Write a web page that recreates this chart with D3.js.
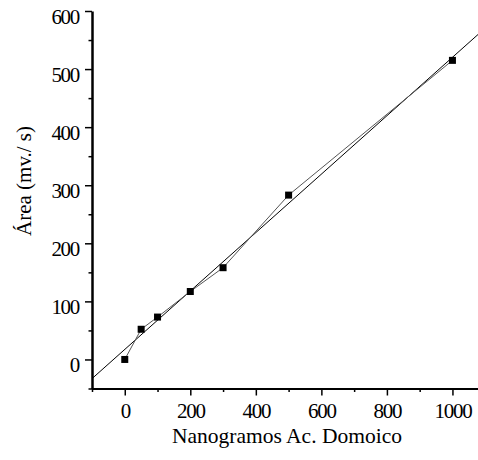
<!DOCTYPE html>
<html>
<head>
<meta charset="utf-8">
<script src="https://cdn.jsdelivr.net/npm/d3@7"></script>
<style>
  html, body { margin: 0; padding: 0; background: #fff; }
  svg { display: block; }
  svg text { font-family: "Liberation Serif", "Times New Roman", serif; }
</style>
</head>
<body>
<svg id="chart" width="478" height="460"></svg>
<script>
// ---- data ----
const nanogramos = [0, 50, 100, 200, 300, 500, 1000];
const area = [0, 52, 73, 117, 158, 283, 515];
// regression line
const fitSlope = 0.503;
const fitIntercept = 17.3;
const xMajorTicks = [0, 200, 400, 600, 800, 1000];
const xMinorTicks = [-100, 100, 300, 500, 700, 900];
const yMajorTicks = [0, 100, 200, 300, 400, 500, 600];
const yMinorTicks = [-50, 50, 150, 250, 350, 450, 550];
const xTitle = "Nanogramos Ac. Domoico";
const yTitle = "Área (mv./ s)";

// ---- layout ----
const svg = d3.select("#chart");
const mLeft = 92, mRight = 478, mTop = 11, mBottom = 388.5;
const x = d3.scaleLinear().domain([-100, 1078]).range([mLeft, mRight]);
const y = d3.scaleLinear().domain([-50, 600]).range([mBottom, mTop]);
const fmt = d3.format("d");

// minor ticks
svg.append("g").attr("transform", `translate(0,${mBottom})`)
  .call(d3.axisBottom(x).tickValues(xMinorTicks).tickSize(3.5).tickFormat(""))
  .call(g => g.select(".domain").remove())
  .call(g => g.selectAll("line").attr("stroke", "#000").attr("stroke-width", 1.5));
svg.append("g").attr("transform", `translate(${mLeft},0)`)
  .call(d3.axisLeft(y).tickValues(yMinorTicks).tickSize(3.5).tickFormat(""))
  .call(g => g.select(".domain").remove())
  .call(g => g.selectAll("line").attr("stroke", "#000").attr("stroke-width", 1.5));

// major axes
const xAxis = svg.append("g").attr("transform", `translate(0,${mBottom})`)
  .call(d3.axisBottom(x).tickValues(xMajorTicks).tickFormat(fmt).tickSize(7).tickSizeOuter(0).tickPadding(8));
xAxis.attr("font-family", null);
xAxis.select(".domain").attr("stroke", "#000").attr("stroke-width", 2);
xAxis.selectAll("line").attr("stroke", "#000").attr("stroke-width", 1.5);
xAxis.selectAll("text").attr("font-size", 21).attr("fill", "#000")
  .attr("letter-spacing", "-1.3px");

const yAxis = svg.append("g").attr("transform", `translate(${mLeft},0)`)
  .call(d3.axisLeft(y).tickValues(yMajorTicks).tickFormat(fmt).tickSize(7).tickSizeOuter(0).tickPadding(6));
yAxis.attr("font-family", null);
yAxis.select(".domain").attr("stroke", "#000").attr("stroke-width", 2.5);
yAxis.selectAll("line").attr("stroke", "#000").attr("stroke-width", 1.5);
yAxis.selectAll("text").attr("font-size", 21).attr("fill", "#000")
  .attr("letter-spacing", "-1.3px").attr("dy", "0.58em");

// regression line
const fitX = x.domain();
svg.append("path")
  .datum(fitX.map(v => [v, fitIntercept + fitSlope * v]))
  .attr("fill", "none").attr("stroke", "#000").attr("stroke-width", 1)
  .attr("d", d3.line().x(d => x(d[0])).y(d => y(d[1])));

// connecting line
const pts = nanogramos.map((v, i) => [v, area[i]]);
svg.append("path")
  .datum(pts)
  .attr("fill", "none").attr("stroke", "#555").attr("stroke-width", 1)
  .attr("d", d3.line().x(d => x(d[0])).y(d => y(d[1])));

// markers
const ms = 7;
svg.append("g").selectAll("rect").data(pts).join("rect")
  .attr("x", d => x(d[0]) - ms / 2).attr("y", d => y(d[1]) - ms / 2)
  .attr("width", ms).attr("height", ms).attr("fill", "#000");

// titles
svg.append("text").attr("x", 287).attr("y", 443)
  .attr("text-anchor", "middle").attr("font-size", 21.5)
  .attr("fill", "#000").text(xTitle);
svg.append("text").attr("transform", "translate(31,181) rotate(-90)")
  .attr("text-anchor", "middle").attr("font-size", 21)
  .attr("fill", "#000").text(yTitle);
</script>
</body>
</html>
